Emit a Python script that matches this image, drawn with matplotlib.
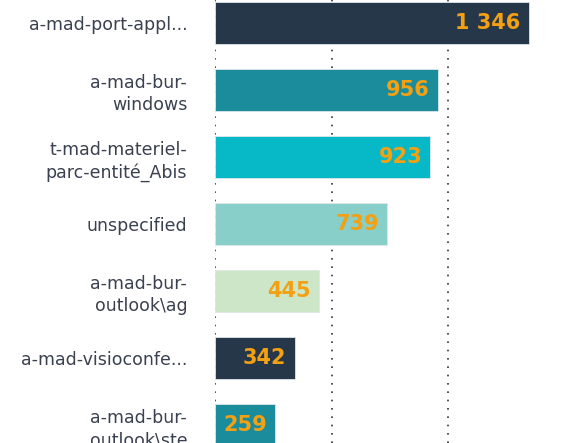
import matplotlib.pyplot as plt

# données
categories = ["a-mad-port-appl...", "a-mad-bur-\nwindows", "t-mad-materiel-\nparc-entité_Abis",
              "unspecified", "a-mad-bur-\noutlook\\ag", "a-mad-visioconfe...", "a-mad-bur-\noutlook\\ste"]
values = [1346, 956, 923, 739, 445, 342, 259]
colors = ["#26374a", "#1a8c9c", "#07b9c6", "#87cfc8", "#cde6c8", "#26374a", "#1a8c9c"]

fig = plt.figure(figsize=(5.61, 4.43), dpi=100)
ax = fig.add_axes([215 / 561, 0, 346 / 561, 1])

pos = list(range(len(values)))
ax.barh(pos, values, height=0.63, color=colors, edgecolor="#dfe6ea", linewidth=0.6, zorder=2)

for p, v in zip(pos, values):
    txt = "{:,}".format(v).replace(",", " ")
    ax.annotate(txt, (v, p), xytext=(-6, 0), textcoords="offset points",
                ha="right", va="center", color="#f3a012", fontsize=15, fontweight="bold", zorder=3)

ax.set_xlim(0, 1483)
ax.set_ylim(6.27, -0.34)
ax.set_xticks([0, 500, 1000])
ax.grid(axis="x", linestyle=(0, (1, 4)), color="#333333", linewidth=1.2, zorder=0)
ax.set_axisbelow(True)
ax.tick_params(axis="x", length=0, labelbottom=False)
ax.tick_params(axis="y", length=0, pad=20)
ax.set_yticks(pos)
ax.set_yticklabels(categories, fontsize=12.5, color="#3a4150", linespacing=1.3)
for s in ax.spines.values():
    s.set_visible(False)

fig.savefig("out.png", dpi=100)
